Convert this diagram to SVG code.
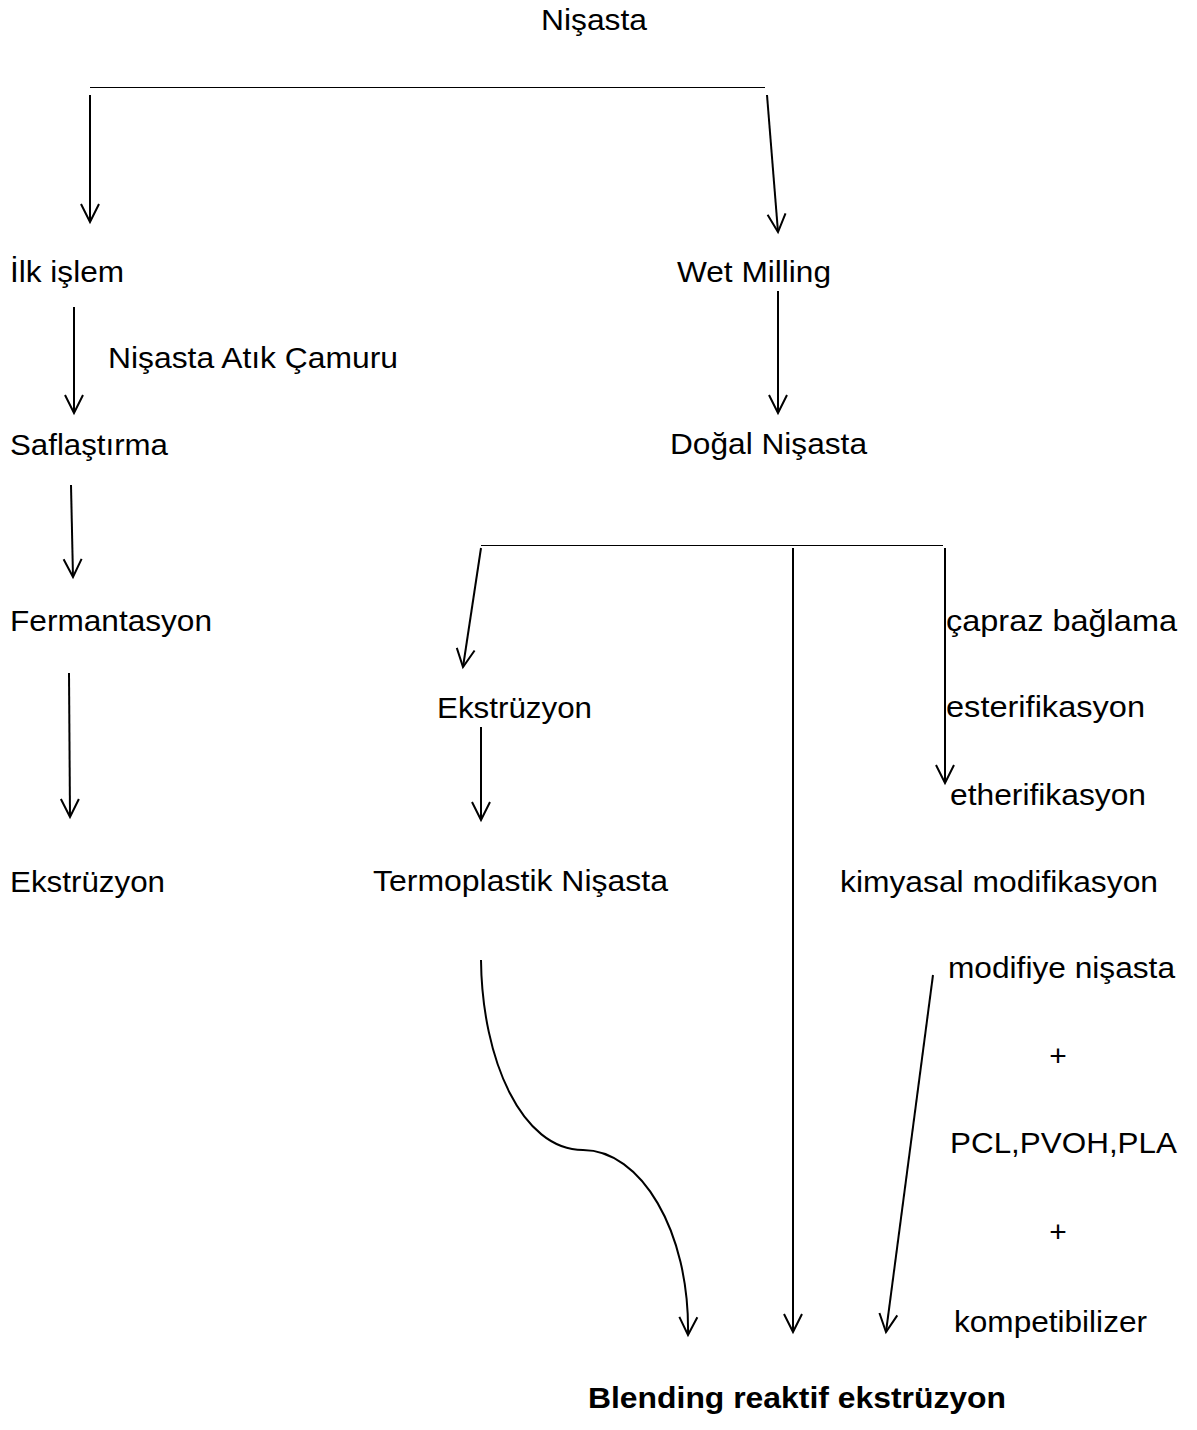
<svg xmlns="http://www.w3.org/2000/svg" width="1197" height="1430" viewBox="0 0 1197 1430">
<style>
text{font-family:"Liberation Sans",Arial,sans-serif;font-size:30px;fill:#000}
.b{font-weight:bold}
.c{fill:none;stroke:#000;stroke-width:2}
.h{fill:none;stroke:#000;stroke-width:1}
</style>
<defs>
<marker id="ah" markerUnits="userSpaceOnUse" viewBox="-20 -11 22 22" refX="0" refY="0" markerWidth="22" markerHeight="22" orient="auto" overflow="visible">
<path d="M-18,-9 L0,0 L-18,9" fill="none" stroke="#000" stroke-width="2"/>
</marker>
</defs>
<rect width="1197" height="1430" fill="#fff"/>
<g id="connectors">
<path class="h" d="M90,87.5 H765"/>
<path class="h" d="M481,545.5 H943"/>
<path class="c" d="M90,95 V222" marker-end="url(#ah)"/>
<path class="c" d="M767,95 L778,232" marker-end="url(#ah)"/>
<path class="c" d="M74,307 V413" marker-end="url(#ah)"/>
<path class="c" d="M71,485 L73,577" marker-end="url(#ah)"/>
<path class="c" d="M69,673 L70,817" marker-end="url(#ah)"/>
<path class="c" d="M778,291 V413" marker-end="url(#ah)"/>
<path class="c" d="M481,548 L463,667" marker-end="url(#ah)"/>
<path class="c" d="M481,727 V820" marker-end="url(#ah)"/>
<path class="c" d="M793,548 V1332" marker-end="url(#ah)"/>
<path class="c" d="M945,548 V783" marker-end="url(#ah)"/>
<path class="c" d="M481,960 C482,1060 522,1150 583,1150 C640,1150 690,1230 688,1335" marker-end="url(#ah)"/>
<path class="c" d="M933,975 L886,1332" marker-end="url(#ah)"/>
</g>
<g id="n-nisasta"><text x="541" y="30" textLength="106" lengthAdjust="spacingAndGlyphs">Nişasta</text></g>
<g id="n-ilk"><text x="10" y="282" textLength="114" lengthAdjust="spacingAndGlyphs">İlk işlem</text></g>
<g id="n-atik"><text x="108" y="368" textLength="290" lengthAdjust="spacingAndGlyphs">Nişasta Atık Çamuru</text></g>
<g id="n-saf"><text x="10" y="455" textLength="158" lengthAdjust="spacingAndGlyphs">Saflaştırma</text></g>
<g id="n-wet"><text x="677" y="282" textLength="154" lengthAdjust="spacingAndGlyphs">Wet Milling</text></g>
<g id="n-dogal"><text x="670" y="454" textLength="197" lengthAdjust="spacingAndGlyphs">Doğal Nişasta</text></g>
<g id="n-ferm"><text x="10" y="631" textLength="202" lengthAdjust="spacingAndGlyphs">Fermantasyon</text></g>
<g id="n-ekst-mid"><text x="437" y="718" textLength="155" lengthAdjust="spacingAndGlyphs">Ekstrüzyon</text></g>
<g id="n-capraz"><text x="946" y="631" textLength="231" lengthAdjust="spacingAndGlyphs">çapraz bağlama</text></g>
<g id="n-ester"><text x="946" y="717" textLength="199" lengthAdjust="spacingAndGlyphs">esterifikasyon</text></g>
<g id="n-ether"><text x="950" y="805" textLength="196" lengthAdjust="spacingAndGlyphs">etherifikasyon</text></g>
<g id="n-ekst-left"><text x="10" y="892" textLength="155" lengthAdjust="spacingAndGlyphs">Ekstrüzyon</text></g>
<g id="n-termo"><text x="373" y="891" textLength="295" lengthAdjust="spacingAndGlyphs">Termoplastik Nişasta</text></g>
<g id="n-kimya"><text x="840" y="892" textLength="318" lengthAdjust="spacingAndGlyphs">kimyasal modifikasyon</text></g>
<g id="n-modif"><text x="948" y="978" textLength="227" lengthAdjust="spacingAndGlyphs">modifiye nişasta</text></g>
<g id="n-plus1"><text x="1058" y="1066" text-anchor="middle">+</text></g>
<g id="n-pcl"><text x="950" y="1153" textLength="227" lengthAdjust="spacingAndGlyphs">PCL,PVOH,PLA</text></g>
<g id="n-plus2"><text x="1058" y="1242" text-anchor="middle">+</text></g>
<g id="n-komp"><text x="954" y="1332" textLength="193" lengthAdjust="spacingAndGlyphs">kompetibilizer</text></g>
<g id="n-blend"><text class="b" x="588" y="1408" textLength="418" lengthAdjust="spacingAndGlyphs">Blending reaktif ekstrüzyon</text></g>
</svg>
